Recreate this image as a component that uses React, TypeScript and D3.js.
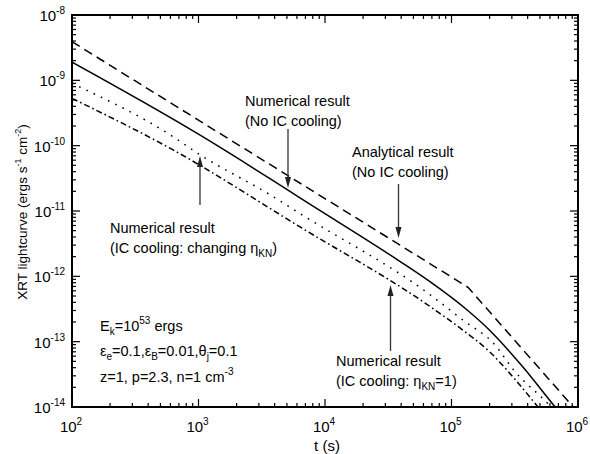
import React, { useEffect, useRef } from 'react';
import * as d3 from 'd3';

const W = 590;
const H = 454;

// Numerical result, no IC cooling (solid)
const tNoIC = [1e2, 1e3, 3.7e3, 6.3e3, 3.9e4, 6.8e4, 1.33e5, 2.0e5, 3.67e5, 6.6e5, 8e5];
const fNoIC = [1.9e-9, 1.5e-10, 3.1e-11, 1.6e-11, 1.7e-12, 8.2e-13, 3.05e-13, 1.5e-13, 4.1e-14, 1.0e-14, 6.4e-15];

// Analytical result, no IC cooling (dashed)
const tAnalytic = [1e2, 1.35e5, 1e6];
const fAnalytic = [3.9e-9, 6.8e-13, 8.3e-15];

// Numerical result, IC cooling with changing eta_KN (dotted)
const tChanging = [1e2, 6.3e2, 1e3, 3.7e3, 6.3e3, 6.8e4, 1.23e5, 2.21e5, 3.06e5, 6.12e5, 7.5e5];
const fChanging = [9.0e-10, 1.37e-10, 7.5e-11, 1.76e-11, 9.2e-12, 5.2e-13, 2.14e-13, 8.9e-14, 3.8e-14, 1.0e-14, 6.3e-15];

// Numerical result, IC cooling with eta_KN = 1 (dash-dot)
const tKN1 = [1e2, 6.3e2, 6.3e3, 6.8e4, 1.23e5, 2.01e5, 3.06e5, 4.83e5, 6e5];
const fKN1 = [5.3e-10, 8.6e-11, 5.75e-12, 3.43e-13, 1.5e-13, 6.95e-14, 2.88e-14, 1.0e-14, 6.0e-15];

const xDecades = [2, 3, 4, 5, 6];
const yDecades = [-14, -13, -12, -11, -10, -9, -8];

const FONT = "Arial, 'Liberation Sans', Helvetica, sans-serif";

const App: React.FC = () => {
  const svgRef = useRef<SVGSVGElement>(null);

  useEffect(() => {
    if (!svgRef.current) return;
    const svg = d3.select(svgRef.current);
    svg.selectAll("*").remove();

    const margin = { top: 15, right: 12, bottom: 47, left: 72 };
    const x = d3.scaleLog().domain([1e2, 1e6]).range([margin.left, W - margin.right]);
    const y = d3.scaleLog().domain([1e-14, 1e-8]).range([H - margin.bottom, margin.top]);
    const [x0, x1] = x.range();
    const [y0, y1] = y.range(); // y0 bottom, y1 top

    svg.append("rect").attr("width", W).attr("height", H).attr("fill", "#fff");

    const defs = svg.append("defs");
    defs.append("clipPath").attr("id", "plot-clip")
      .append("rect")
      .attr("x", x0).attr("y", y1)
      .attr("width", x1 - x0).attr("height", y0 - y1);

    // --- CURVES ---
    const line = d3.line<[number, number]>()
      .x(d => x(d[0]))
      .y(d => y(d[1]));

    const series = [
      { t: tAnalytic, f: fAnalytic, dash: "9,5.5", curve: d3.curveLinear },
      { t: tNoIC, f: fNoIC, dash: null, curve: d3.curveMonotoneX },
      { t: tChanging, f: fChanging, dash: "1.6,6.4", curve: d3.curveMonotoneX },
      { t: tKN1, f: fKN1, dash: "6,3,1.6,3", curve: d3.curveMonotoneX },
    ];

    const curves = svg.append("g").attr("clip-path", "url(#plot-clip)");
    series.forEach(s => {
      const pts = s.t.map((t, i) => [t, s.f[i]] as [number, number]);
      curves.append("path")
        .attr("d", line.curve(s.curve)(pts))
        .attr("fill", "none")
        .attr("stroke", "#000")
        .attr("stroke-width", 1.5)
        .attr("stroke-dasharray", s.dash ?? "none");
    });

    // --- AXES (inward ticks on all four sides) ---
    const axes = svg.append("g");
    const majorLen = 8;
    const minorLen = 4;

    const xMinor: number[] = [];
    for (let d = 2; d < 6; d++) for (let m = 2; m <= 9; m++) xMinor.push(m * Math.pow(10, d));
    const yMinor: number[] = [];
    for (let d = -14; d < -8; d++) for (let m = 2; m <= 9; m++) yMinor.push(m * Math.pow(10, d));

    const tick = (xa: number, ya: number, xb: number, yb: number) =>
      axes.append("line")
        .attr("x1", xa).attr("y1", ya).attr("x2", xb).attr("y2", yb)
        .attr("stroke", "#000").attr("stroke-width", 1.2);

    xDecades.forEach(d => {
      const px = x(Math.pow(10, d));
      tick(px, y0, px, y0 - majorLen);
      tick(px, y1, px, y1 + majorLen);
    });
    xMinor.forEach(v => {
      const px = x(v);
      tick(px, y0, px, y0 - minorLen);
      tick(px, y1, px, y1 + minorLen);
    });
    yDecades.forEach(d => {
      const py = y(Math.pow(10, d));
      tick(x0, py, x0 + majorLen, py);
      tick(x1, py, x1 - majorLen, py);
    });
    yMinor.forEach(v => {
      const py = y(v);
      tick(x0, py, x0 + minorLen, py);
      tick(x1, py, x1 - minorLen, py);
    });

    axes.append("rect")
      .attr("x", x0).attr("y", y1)
      .attr("width", x1 - x0).attr("height", y0 - y1)
      .attr("fill", "none").attr("stroke", "#000").attr("stroke-width", 2);

    // Tick labels: 10^n
    const labels = svg.append("g").attr("font-family", FONT).attr("fill", "#000");
    xDecades.forEach(d => {
      const t = labels.append("text")
        .attr("x", x(Math.pow(10, d)) - 1)
        .attr("y", 432)
        .attr("text-anchor", "middle")
        .attr("font-size", 15);
      t.append("tspan").text("10");
      t.append("tspan").attr("font-size", 10).attr("dy", -7).text(String(d));
    });
    yDecades.forEach(d => {
      const t = labels.append("text")
        .attr("x", 65)
        .attr("y", y(Math.pow(10, d)) + 6)
        .attr("text-anchor", "end")
        .attr("font-size", 15);
      t.append("tspan").text("10");
      t.append("tspan").attr("font-size", 10).attr("dy", -7).text(String(d));
    });

    // Axis titles
    labels.append("text")
      .attr("x", (x0 + x1) / 2 + 2)
      .attr("y", 451)
      .attr("text-anchor", "middle")
      .attr("font-size", 15)
      .text("t (s)");

    const yt = labels.append("text")
      .attr("transform", `translate(27,212) rotate(-90)`)
      .attr("text-anchor", "middle")
      .attr("font-size", 13.5);
    yt.append("tspan").text("XRT lightcurve (ergs s");
    yt.append("tspan").attr("font-size", 9).attr("dy", -6).text("-1");
    yt.append("tspan").attr("dy", 6).text(" cm");
    yt.append("tspan").attr("font-size", 9).attr("dy", -6).text("-2");
    yt.append("tspan").attr("dy", 6).text(")");

    // --- ANNOTATIONS ---
    const ann = svg.append("g").attr("font-family", FONT).attr("font-size", 14.5).attr("fill", "#000");

    const arrow = (ax: number, yFrom: number, yTo: number) => {
      const dir = yTo > yFrom ? 1 : -1;
      const headLen = 11;
      ann.append("line")
        .attr("x1", ax).attr("x2", ax)
        .attr("y1", yFrom).attr("y2", yTo - dir * headLen)
        .attr("stroke", "#333").attr("stroke-width", 1.3);
      ann.append("path")
        .attr("d", `M${ax},${yTo} L${ax - 3},${yTo - dir * headLen} L${ax + 3},${yTo - dir * headLen} Z`)
        .attr("fill", "#222");
    };

    // Numerical result (No IC cooling)
    ann.append("text").attr("x", 245).attr("y", 106).text("Numerical result");
    ann.append("text").attr("x", 245).attr("y", 126).text("(No IC cooling)");
    arrow(288, 129, 188);

    // Analytical result (No IC cooling)
    ann.append("text").attr("x", 352).attr("y", 157).text("Analytical result");
    ann.append("text").attr("x", 352).attr("y", 177).text("(No IC cooling)");
    arrow(398.5, 184, 238);

    // Numerical result (IC cooling: changing eta_KN)
    ann.append("text").attr("x", 110).attr("y", 233).text("Numerical result");
    const a3 = ann.append("text").attr("x", 110).attr("y", 253);
    a3.append("tspan").text("(IC cooling: changing \u03B7");
    a3.append("tspan").attr("font-size", 10).attr("dy", 4).text("KN");
    a3.append("tspan").attr("dy", -4).text(")");
    arrow(200, 205, 156);

    // Numerical result (IC cooling: eta_KN = 1)
    ann.append("text").attr("x", 336).attr("y", 366).text("Numerical result");
    const a4 = ann.append("text").attr("x", 336).attr("y", 386);
    a4.append("tspan").text("(IC cooling:  \u03B7");
    a4.append("tspan").attr("font-size", 10).attr("dy", 4).text("KN");
    a4.append("tspan").attr("dy", -4).text("=1)");
    arrow(390.5, 351, 285);

    // Parameters
    const p1 = ann.append("text").attr("x", 100).attr("y", 331);
    p1.append("tspan").text("E");
    p1.append("tspan").attr("font-size", 10).attr("dy", 4).text("k");
    p1.append("tspan").attr("dy", -4).text("=10");
    p1.append("tspan").attr("font-size", 10).attr("dy", -7).text("53");
    p1.append("tspan").attr("dy", 7).text(" ergs");

    const p2 = ann.append("text").attr("x", 100).attr("y", 356);
    p2.append("tspan").text("\u03B5");
    p2.append("tspan").attr("font-size", 10).attr("dy", 4).text("e");
    p2.append("tspan").attr("dy", -4).text("=0.1,\u03B5");
    p2.append("tspan").attr("font-size", 10).attr("dy", 4).text("B");
    p2.append("tspan").attr("dy", -4).text("=0.01,\u03B8");
    p2.append("tspan").attr("font-size", 10).attr("dy", 4).text("j");
    p2.append("tspan").attr("dy", -4).text("=0.1");

    const p3 = ann.append("text").attr("x", 100).attr("y", 382);
    p3.append("tspan").text("z=1, p=2.3, n=1 cm");
    p3.append("tspan").attr("font-size", 10).attr("dy", -7).text("-3");
  }, []);

  return (
    <div style={{ position: "absolute", left: 0, top: 0, width: W, height: H }}>
      <svg ref={svgRef} width={W} height={H} style={{ display: "block" }} />
    </div>
  );
};

export default App;
